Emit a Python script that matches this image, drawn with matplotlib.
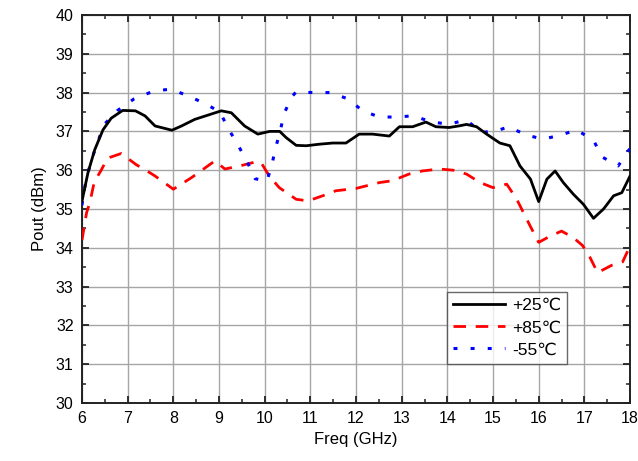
import matplotlib
matplotlib.use("Agg")
import matplotlib.pyplot as plt
from matplotlib.ticker import MultipleLocator

plt.rcParams['font.family'] = ['Liberation Sans', 'DejaVu Sans']

# +25 C
freq_25 = [6.0, 6.13, 6.28, 6.46, 6.64, 6.89, 7.17, 7.38, 7.6, 7.97, 8.18, 8.47, 8.76,
           9.05, 9.27, 9.56, 9.85, 10.11, 10.33, 10.47, 10.69, 10.91, 11.2, 11.49, 11.78,
           12.07, 12.36, 12.73, 12.95, 13.24, 13.53, 13.75, 14.04, 14.25, 14.42, 14.64,
           14.86, 15.15, 15.37, 15.59, 15.82, 16.0, 16.18, 16.36, 16.54, 16.76, 16.98,
           17.2, 17.42, 17.64, 17.82, 18.0]
pout_25 = [35.2, 35.93, 36.53, 37.04, 37.34, 37.54, 37.53, 37.4, 37.14, 37.03, 37.14,
           37.31, 37.42, 37.53, 37.48, 37.14, 36.93, 37.0, 37.0, 36.84, 36.64, 36.63,
           36.67, 36.7, 36.7, 36.93, 36.93, 36.88, 37.12, 37.12, 37.24, 37.12, 37.1,
           37.14, 37.18, 37.12, 36.93, 36.7, 36.63, 36.11, 35.77, 35.19, 35.77, 35.98,
           35.68, 35.38, 35.12, 34.76, 35.0, 35.34, 35.42, 35.85]

# +85 C
freq_85 = [6.0, 6.1, 6.17, 6.27, 6.42, 6.56, 6.86, 7.19, 7.44, 7.6, 8.0, 8.4, 8.91, 9.13,
           9.49, 9.79, 9.92, 10.1, 10.32, 10.69, 10.95, 11.27, 11.56, 12.0, 12.51, 12.8,
           13.16, 13.45, 13.82, 14.13, 14.42, 14.72, 15.0, 15.3, 15.52, 15.81, 16.0,
           16.25, 16.5, 16.75, 16.96, 17.12, 17.29, 17.6, 17.84, 18.0]
pout_85 = [34.2, 34.9, 35.16, 35.7, 36.0, 36.31, 36.43, 36.14, 35.97, 35.85, 35.51,
           35.81, 36.24, 36.03, 36.12, 36.21, 36.2, 35.85, 35.55, 35.25, 35.21, 35.34,
           35.47, 35.53, 35.68, 35.73, 35.9, 35.98, 36.03, 36.0, 35.9, 35.68, 35.55,
           35.64, 35.25, 34.57, 34.14, 34.3, 34.43, 34.27, 34.06, 33.76, 33.36, 33.55,
           33.64, 34.05]

# -55 C
freq_m55 = [6.0, 6.05, 6.12, 6.22, 6.35, 6.48, 6.78, 7.13, 7.57, 7.95, 8.33, 8.69, 9.02,
            9.21, 9.42, 9.62, 9.79, 10.05, 10.16, 10.24, 10.34, 10.42, 10.58, 10.69,
            11.05, 11.42, 11.8, 12.15, 12.51, 12.87, 13.25, 13.64, 14.03, 14.41, 14.75,
            15.12, 15.34, 15.72, 16.09, 16.47, 16.83, 17.2, 17.39, 17.74, 17.96, 18.0]
pout_m55 = [35.1, 35.5, 35.89, 36.31, 36.74, 37.17, 37.54, 37.83, 38.04, 38.09, 37.91,
            37.72, 37.5, 37.06, 36.64, 36.21, 35.78, 35.72, 36.15, 36.58, 37.0, 37.44,
            37.87, 38.02, 38.0, 38.0, 37.85, 37.53, 37.37, 37.37, 37.4, 37.25, 37.18,
            37.3, 36.97, 37.03, 37.12, 36.91, 36.8, 36.9, 37.04, 36.77, 36.34, 36.11,
            36.5, 36.55]

labels = ['+25\u2103', '+85\u2103', '-55\u2103']

fig = plt.figure(figsize=(6.38, 4.61), dpi=100)
ax = fig.add_axes([0.1285, 0.1258, 0.859, 0.8417])

ax.plot(freq_25, pout_25, color='black', lw=2.0, label=labels[0],
        solid_joinstyle='round', zorder=4)
ax.plot(freq_85, pout_85, color='#ff0000', lw=2.0, linestyle=(0, (4.5, 3.5)),
        label=labels[1], zorder=3)
ax.plot(freq_m55, pout_m55, color='#0000ff', lw=2.2, linestyle=(0, (1.3, 4.3)),
        label=labels[2], zorder=3)

ax.set_xlim(6, 18)
ax.set_ylim(30, 40)
ax.xaxis.set_major_locator(MultipleLocator(1))
ax.xaxis.set_minor_locator(MultipleLocator(0.5))
ax.yaxis.set_major_locator(MultipleLocator(1))
ax.yaxis.set_minor_locator(MultipleLocator(0.5))
ax.tick_params(which='both', direction='in', top=True, right=True,
               labelsize=11.5, color='#222222', pad=6)
ax.tick_params(which='major', length=5, width=1.3)
ax.tick_params(which='minor', length=3, width=1.1)
for s in ax.spines.values():
    s.set_linewidth(1.4)
    s.set_color('#222222')

ax.grid(True, which='major', color='#a6a6a6', lw=1.0)
ax.set_axisbelow(True)

ax.set_xlabel('Freq (GHz)', fontsize=12, labelpad=4)
ax.set_ylabel('Pout (dBm)', fontsize=12, labelpad=6)

leg = ax.legend(loc='upper left', bbox_to_anchor=(0.666, 0.286), fontsize=12.5,
                frameon=True, fancybox=False, edgecolor='#444444',
                handlelength=3.0, handletextpad=0.4, labelspacing=0.4,
                borderpad=0.35, borderaxespad=0)
leg.get_frame().set_linewidth(1.0)

fig.savefig('out.png', dpi=100, facecolor='white')
